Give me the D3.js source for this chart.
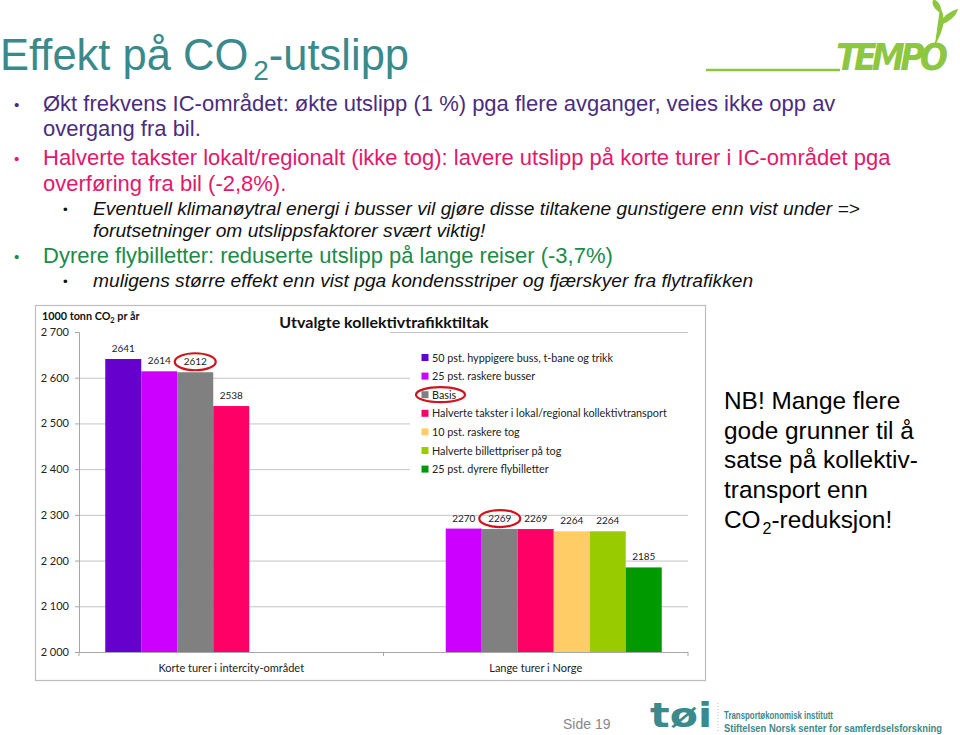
<!DOCTYPE html>
<html><head><meta charset="utf-8">
<script src="https://cdn.jsdelivr.net/npm/d3@7"></script>
<style>
body{margin:0;background:#fff;}
svg{display:block;}
text{font-family:"Liberation Sans",Arial,sans-serif;}
.ch text{font-family:Lato,"Open Sans",sans-serif;}
</style></head>
<body><svg id="s" width="960" height="735"></svg>
<script>
// ---------- data ----------
const categories = ["Korte turer i intercity-området", "Lange turer i Norge"];
const seriesNames = [
  "50 pst. hyppigere buss, t-bane og trikk",
  "25 pst. raskere busser",
  "Basis",
  "Halverte takster i lokal/regional kollektivtransport",
  "10 pst. raskere tog",
  "Halverte billettpriser på tog",
  "25 pst. dyrere flybilletter"
];
const seriesColors = ["#6600cc", "#cc00ff", "#808080", "#ff0066", "#ffcc66", "#99cc00", "#009900"];
const korteTurer = [2641, 2614, 2612, 2538, null, null, null];
const langeTurer = [null, 2270, 2269, 2269, 2264, 2264, 2185];
const yTicks = [2000, 2100, 2200, 2300, 2400, 2500, 2600, 2700];
const highlighted = "Basis";

const valuesByCat = [korteTurer, langeTurer];

const svg = d3.select("#s");

// ---------- slide header ----------
const title = svg.append("text").attr("x", 0).attr("y", 70).attr("fill", "#3a8a8c").style("font-size", "43.5px");
title.append("tspan").text("Effekt på CO");
title.append("tspan").attr("dx", 5).attr("dy", 10).style("font-size", "28px").text("2");
title.append("tspan").attr("dy", -10).text("-utslipp");

// TEMPO logo
svg.append("line").attr("x1", 706).attr("x2", 840).attr("y1", 70).attr("y2", 70).attr("stroke", "#8dc63f").attr("stroke-width", 2.5);
svg.append("text").attr("x", 836).attr("y", 70).attr("fill", "#8dc63f")
  .style("font-size", "37px").style("font-weight", "bold").style("font-style", "italic")
  .style("font-family", "'Liberation Sans Narrow','DejaVu Sans Condensed',sans-serif")
  .attr("textLength", 112).text("TEMPO");
svg.append("path").attr("d", "M935,44 C942,30 946,20 940,8 M941,24 C948,22 955,16 957,10 C950,12 944,16 941,24 Z M940,12 C934,8 932,3 934,0 C939,3 941,7 940,12 Z")
  .attr("fill", "#8dc63f").attr("stroke", "#8dc63f").attr("stroke-width", 1.5);

// bullets
const bullets = [
  {x: 43, b: 14, y: 111, size: 22, color: "#4a2d7e", italic: false, t: "Økt frekvens IC-området: økte utslipp (1 %) pga flere avganger, veies ikke opp av", bullet: true},
  {x: 43, y: 136, size: 22, color: "#4a2d7e", italic: false, t: "overgang fra bil."},
  {x: 43, b: 14, y: 165, size: 22, color: "#e0196b", italic: false, t: "Halverte takster lokalt/regionalt (ikke tog): lavere utslipp på korte turer i IC-området pga", bullet: true},
  {x: 43, y: 191, size: 22, color: "#e0196b", italic: false, t: "overføring fra bil (-2,8%)."},
  {x: 93, b: 63, y: 215, size: 19.2, color: "#111", italic: true, t: "Eventuell klimanøytral energi i busser vil gjøre disse tiltakene gunstigere enn vist under =>", bullet: true},
  {x: 93, y: 237, size: 19.2, color: "#111", italic: true, t: "forutsetninger om utslippsfaktorer svært viktig!"},
  {x: 43, b: 14, y: 263, size: 22, color: "#1e8a4a", italic: false, t: "Dyrere flybilletter: reduserte utslipp på lange reiser (-3,7%)", bullet: true},
  {x: 93, b: 63, y: 287, size: 19.2, color: "#111", italic: true, t: "muligens større effekt enn vist pga kondensstriper og fjærskyer fra flytrafikken", bullet: true}
];
bullets.forEach(d => {
  svg.append("text").attr("x", d.x).attr("y", d.y).attr("fill", d.color)
    .style("font-size", d.size + "px").style("font-style", d.italic ? "italic" : "normal").text(d.t);
  if (d.bullet) {
    svg.append("text").attr("x", d.b).attr("y", d.y - 1).attr("fill", d.color)
      .style("font-size", (d.size * 0.7) + "px").text("•");
  }
});

// NB text
const nbLines = ["NB! Mange flere", "gode grunner til å", "satse på kollektiv-", "transport enn"];
nbLines.forEach((t, i) => {
  svg.append("text").attr("x", 724).attr("y", 409 + i * 29.7).attr("fill", "#000").style("font-size", "24.4px").text(t);
});
const nbLast = svg.append("text").attr("x", 724).attr("y", 528).attr("fill", "#000").style("font-size", "24.4px");
nbLast.append("tspan").text("CO");
nbLast.append("tspan").attr("dx", 2).attr("dy", 6).style("font-size", "16px").text("2");
nbLast.append("tspan").attr("dy", -6).text("-reduksjon!");

// footer
svg.append("text").attr("x", 563).attr("y", 729).attr("fill", "#888").style("font-size", "14px").text("Side 19");
svg.append("text").attr("x", 650).attr("y", 727).attr("fill", "#3a8a8c").style("font-size", "34px").style("font-weight", "bold")
  .style("font-family", "'DejaVu Sans',sans-serif").attr("textLength", 62).attr("lengthAdjust", "spacingAndGlyphs").text("tøi");
svg.append("line").attr("x1", 718).attr("x2", 718).attr("y1", 703).attr("y2", 733).attr("stroke", "#9cc").attr("stroke-dasharray", "1,2");
svg.append("text").attr("x", 724).attr("y", 719).attr("fill", "#3a8a8c").style("font-size", "10px").style("font-weight", "bold")
  .attr("textLength", 109).attr("lengthAdjust", "spacingAndGlyphs").text("Transportøkonomisk institutt");
svg.append("text").attr("x", 724).attr("y", 732).attr("fill", "#3a8a8c").style("font-size", "10px").style("font-weight", "bold")
  .attr("textLength", 218).attr("lengthAdjust", "spacingAndGlyphs").text("Stiftelsen Norsk senter for samferdselsforskning");

// ---------- chart ----------
const ch = svg.append("g").attr("class", "ch");
ch.append("rect").attr("x", 35.5).attr("y", 305.5).attr("width", 670).attr("height", 375)
  .attr("fill", "#fff").attr("stroke", "#bdbdbd").attr("stroke-width", 1.2);

const x0 = 79, x1 = 688, yTop = 332, yBot = 652;
const y = d3.scaleLinear().domain([2000, 2700]).range([yBot, yTop]);
const xCat = d3.scaleBand().domain(categories).range([x0, x1]).paddingInner(0.1724).paddingOuter(0.0862);
const xSer = d3.scaleBand().domain(seriesNames).range([0, xCat.bandwidth()]);
const fmt = d => d3.format(",")(d).replace(/,/g, " ");

// gridlines
ch.append("g").attr("transform", `translate(${x0},0)`)
  .call(d3.axisLeft(y).tickValues(yTicks).tickSize(-(x1 - x0)).tickFormat(""))
  .call(g => g.select(".domain").remove())
  .call(g => g.selectAll("line").attr("stroke", "#c4c4c4"));

// y axis
ch.append("g").attr("transform", `translate(${x0},0)`)
  .call(d3.axisLeft(y).tickValues(yTicks).tickSize(4).tickPadding(6).tickFormat(fmt))
  .call(g => g.select(".domain").attr("stroke", "#a6a6a6"))
  .call(g => g.selectAll("line").attr("stroke", "#a6a6a6"))
  .call(g => g.selectAll("text").attr("fill", "#222").style("font-size", "11px").style("font-family", "Lato,sans-serif"));

// legend background (covers gridlines) and title background
ch.append("rect").attr("x", 410).attr("y", 340).attr("width", 282).attr("height", 140).attr("fill", "#fff");
ch.append("rect").attr("x", 80).attr("y", 326).attr("width", 310).attr("height", 10).attr("fill", "#fff");

// bars
categories.forEach((c, ci) => {
  const vals = valuesByCat[ci];
  const gc = ch.append("g").attr("transform", `translate(${xCat(c)},0)`);
  const data = seriesNames.map((s, si) => ({s, v: vals[si], color: seriesColors[si]})).filter(d => d.v != null);
  gc.selectAll("rect").data(data).join("rect")
    .attr("x", d => xSer(d.s)).attr("width", xSer.bandwidth())
    .attr("y", d => y(d.v)).attr("height", d => yBot - y(d.v))
    .attr("fill", d => d.color);
  gc.selectAll("text.v").data(data).join("text").attr("class", "v")
    .attr("x", d => xSer(d.s) + xSer.bandwidth() / 2).attr("y", d => y(d.v) - 7)
    .attr("text-anchor", "middle").attr("fill", "#222").style("font-size", "10px").text(d => d.v);
  // highlight ellipse
  data.filter(d => d.s === highlighted).forEach(d => {
    gc.append("ellipse").attr("cx", xSer(d.s) + xSer.bandwidth() / 2).attr("cy", y(d.v) - 10.5)
      .attr("rx", 20.5).attr("ry", 8.5).attr("fill", "none").attr("stroke", "#d0141e").attr("stroke-width", 2.2);
  });
  // category label
  ch.append("text").attr("x", xCat(c) + xCat.bandwidth() / 2).attr("y", 672).attr("text-anchor", "middle")
    .attr("fill", "#222").style("font-size", "11px").text(c);
});

// x axis baseline with category ticks
const xBase = ch.append("g");
xBase.append("line").attr("x1", x0).attr("x2", x1).attr("y1", yBot + 0.5).attr("y2", yBot + 0.5).attr("stroke", "#a6a6a6");
const bounds = [x0, (x0 + x1) / 2, x1];
xBase.selectAll("line.t").data(bounds).join("line").attr("class", "t")
  .attr("x1", d => d).attr("x2", d => d).attr("y1", yBot).attr("y2", yBot + 4).attr("stroke", "#a6a6a6");

// chart title
ch.append("text").attr("x", 384).attr("y", 328).attr("text-anchor", "middle").attr("fill", "#111")
  .style("font-size", "16px").style("font-weight", "bold").text("Utvalgte kollektivtrafikktiltak");

// y axis title
const yt = ch.append("text").attr("x", 42).attr("y", 320).attr("fill", "#111").style("font-size", "10.8px").style("font-weight", "bold");
yt.append("tspan").text("1000 tonn CO");
yt.append("tspan").attr("dy", 3).style("font-size", "7.5px").text("2");
yt.append("tspan").attr("dy", -3).text(" pr år");

// legend
const lg = ch.append("g");
seriesNames.forEach((s, i) => {
  const yy = 357.5 + i * 18.6;
  lg.append("rect").attr("x", 421.5).attr("y", yy - 3.5).attr("width", 7).attr("height", 7).attr("fill", seriesColors[i]);
  lg.append("text").attr("x", 432).attr("y", yy + 4).attr("fill", "#222").style("font-size", "10.8px").text(s);
  if (s === highlighted) {
    lg.append("ellipse").attr("cx", 440.5).attr("cy", yy).attr("rx", 24.5).attr("ry", 7.5)
      .attr("fill", "none").attr("stroke", "#d0141e").attr("stroke-width", 2.2);
  }
});
</script></body></html>
